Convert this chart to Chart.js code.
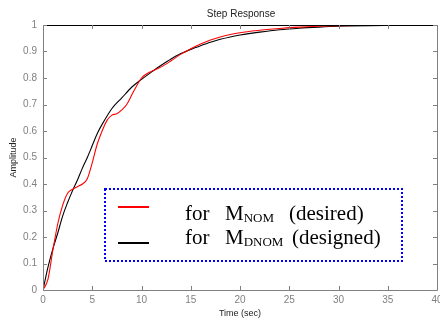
<!DOCTYPE html>
<html>
<head>
<meta charset="utf-8">
<script src="https://cdn.jsdelivr.net/npm/chart.js@4"></script>
<style>
  html, body { margin: 0; padding: 0; background: #fff; }
  #wrap { width: 440px; height: 320px; position: relative; }
</style>
</head>
<body>
<div id="wrap"><canvas id="step-chart"></canvas></div>
<script>
// desired response M_NOM (red)
const tDesired = [0, 0.5, 1, 1.5, 2, 2.5, 3, 3.5, 4, 4.5, 5, 5.5, 6, 6.5, 7, 7.5, 8, 8.5, 9, 9.5, 10,
  10.5, 11, 12, 13, 14, 15, 16, 17, 18, 19, 20, 22, 24, 26, 28, 30, 35, 40];
const desired = [0, 0.04, 0.15, 0.25, 0.32, 0.365, 0.38, 0.39, 0.40, 0.42, 0.48, 0.55, 0.60, 0.64, 0.66, 0.665,
  0.68, 0.70, 0.735, 0.77, 0.80, 0.815, 0.825, 0.842, 0.865, 0.89, 0.91, 0.928, 0.943, 0.955, 0.964, 0.971,
  0.98, 0.987, 0.992, 0.995, 0.997, 0.999, 1.0];

// designed response M_DNOM (black)
const tDesigned = [0, 0.5, 1, 1.5, 2, 2.5, 3, 3.5, 4, 4.5, 5, 5.5, 6, 7, 8, 9, 10, 11, 12, 13, 14, 15,
  16, 17, 18, 19, 20, 22, 24, 26, 28, 30, 35, 40];
const designed = [0, 0.085, 0.155, 0.215, 0.28, 0.33, 0.375, 0.415, 0.46, 0.50, 0.545, 0.59, 0.625, 0.685,
  0.725, 0.765, 0.795, 0.822, 0.848, 0.872, 0.892, 0.908, 0.922, 0.935, 0.946, 0.955, 0.962, 0.973, 0.982,
  0.988, 0.992, 0.995, 0.998, 0.999];

const xTicks = [0, 5, 10, 15, 20, 25, 30, 35, 40];
const yTicks = [0, 0.1, 0.2, 0.3, 0.4, 0.5, 0.6, 0.7, 0.8, 0.9, 1];

const axisGrey = "#808080";

function pts(xs, ys) {
  return xs.map((x, i) => ({ x: x, y: ys[i] }));
}

// box, inward ticks, title and the boxed legend (matlab style)
const matlabFrame = {
  id: "matlabFrame",
  afterDatasetsDraw(chart) {
    const { ctx, chartArea: a, scales } = chart;
    ctx.save();
    ctx.lineWidth = 1;
    ctx.strokeStyle = axisGrey;
    ctx.beginPath();
    ctx.moveTo(a.left + 0.5, a.top);
    ctx.lineTo(a.left + 0.5, a.bottom + 0.5);
    ctx.lineTo(a.right + 0.5, a.bottom + 0.5);
    ctx.lineTo(a.right + 0.5, a.top);
    ctx.stroke();
    ctx.strokeStyle = "#000";
    ctx.beginPath();
    ctx.moveTo(a.left, a.top + 0.5);
    ctx.lineTo(a.right + 1, a.top + 0.5);
    ctx.stroke();

    ctx.strokeStyle = axisGrey;
    ctx.beginPath();
    for (const v of xTicks) {
      const px = Math.round(scales.x.getPixelForValue(v)) + 0.5;
      ctx.moveTo(px, a.bottom); ctx.lineTo(px, a.bottom - 4);
      ctx.moveTo(px, a.top); ctx.lineTo(px, a.top + 4);
    }
    for (const v of yTicks) {
      const py = Math.round(scales.y.getPixelForValue(v)) + 0.5;
      ctx.moveTo(a.left, py); ctx.lineTo(a.left + 4, py);
      ctx.moveTo(a.right, py); ctx.lineTo(a.right - 4, py);
    }
    ctx.stroke();

    // title
    ctx.fillStyle = "#222";
    ctx.font = "10px 'Liberation Sans', Arial, sans-serif";
    ctx.textAlign = "center";
    ctx.textBaseline = "middle";
    ctx.fillText("Step Response", (a.left + a.right) / 2 + 1, 14);

    // legend box
    ctx.strokeStyle = "#0000ff";
    ctx.lineWidth = 2;
    ctx.setLineDash([2, 2]);
    ctx.strokeRect(105, 189, 297, 72);
    ctx.setLineDash([]);

    ctx.lineWidth = 2;
    ctx.strokeStyle = "#ff0000";
    ctx.beginPath(); ctx.moveTo(118, 207); ctx.lineTo(149, 207); ctx.stroke();
    ctx.strokeStyle = "#000";
    ctx.beginPath(); ctx.moveTo(118, 243); ctx.lineTo(149, 243); ctx.stroke();

    const big = "21px 'Liberation Serif', 'Times New Roman', serif";
    const small = "13px 'Liberation Serif', 'Times New Roman', serif";
    ctx.fillStyle = "#000";
    ctx.textAlign = "left";
    ctx.textBaseline = "alphabetic";
    const rows = [
      { y: 220, sub: "NOM", tail: "(desired)", tailX: 289 },
      { y: 244, sub: "DNOM", tail: "(designed)", tailX: 292 },
    ];
    for (const r of rows) {
      ctx.font = big;
      ctx.fillText("for", 185, r.y);
      ctx.fillText("M", 225, r.y);
      const mw = ctx.measureText("M").width;
      ctx.font = small;
      ctx.fillText(r.sub, 225 + mw, r.y + 2);
      ctx.font = big;
      ctx.fillText(r.tail, r.tailX, r.y);
    }
    ctx.restore();
  },
};

const ctx = document.getElementById("step-chart").getContext("2d");

new Chart(ctx, {
  type: "line",
  data: {
    datasets: [
      {
        label: "for MNOM (desired)",
        data: pts(tDesired, desired),
        borderColor: "#ff0000",
        borderWidth: 1.1,
        pointRadius: 0,
        fill: false,
        cubicInterpolationMode: "monotone",
      },
      {
        label: "for MDNOM (designed)",
        data: pts(tDesigned, designed),
        borderColor: "#000000",
        borderWidth: 1.1,
        pointRadius: 0,
        fill: false,
        cubicInterpolationMode: "monotone",
      },
    ],
  },
  options: {
    responsive: true,
    maintainAspectRatio: false,
    animation: false,
    events: [],
    layout: { padding: { top: 25, right: 3, left: 0, bottom: 0 } },
    plugins: {
      legend: { display: false },
      title: { display: false },
      tooltip: { enabled: false },
    },
    scales: {
      x: {
        type: "linear",
        min: 0,
        max: 40,
        grid: { display: false, drawTicks: false },
        border: { display: false },
        afterBuildTicks: (s) => { s.ticks = xTicks.map(v => ({ value: v })); },
        afterFit: (s) => { s.height = 30; s.paddingLeft = 0; s.paddingRight = 0; },
        ticks: {
          color: axisGrey,
          padding: 4,
          maxRotation: 0,
          autoSkip: false,
          callback: (v) => String(v),
          font: { family: "'Liberation Sans', Arial, sans-serif", size: 10 },
        },
        title: {
          display: true,
          text: "Time (sec)",
          color: "#222",
          padding: { top: 0, bottom: 1 },
          font: { family: "'Liberation Sans', Arial, sans-serif", size: 9 },
        },
      },
      y: {
        min: 0,
        max: 1,
        grid: { display: false, drawTicks: false },
        border: { display: false },
        afterBuildTicks: (s) => { s.ticks = yTicks.map(v => ({ value: v })); },
        afterFit: (s) => { s.width = 43; s.paddingTop = 0; s.paddingBottom = 0; },
        ticks: {
          color: axisGrey,
          padding: 6,
          autoSkip: false,
          callback: (v) => String(Number(v.toFixed(2))),
          font: { family: "'Liberation Sans', Arial, sans-serif", size: 10 },
        },
        title: {
          display: true,
          text: "Amplitude",
          color: "#222",
          padding: { top: 8, bottom: 0 },
          font: { family: "'Liberation Sans', Arial, sans-serif", size: 9 },
        },
      },
    },
  },
  plugins: [matlabFrame],
});
</script>
</body>
</html>
